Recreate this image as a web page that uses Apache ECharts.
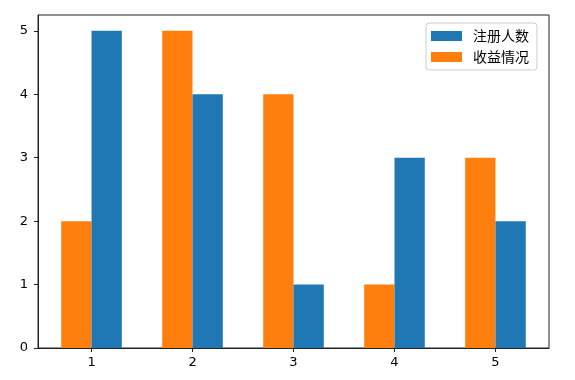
<!DOCTYPE html>
<html><head><meta charset="utf-8">
<script src="https://cdn.jsdelivr.net/npm/echarts@6/dist/echarts.min.js"></script>
<style>html,body{margin:0;padding:0;background:#fff}#c{width:575px;height:380px}</style>
</head><body><div id="c"></div>
<script>
const categories = [1, 2, 3, 4, 5];
const incomeValues = [2, 5, 4, 1, 3];   // 收益情况 (orange)
const usersValues = [5, 4, 1, 3, 2];    // 注册人数 (blue)
const yTicks = [0, 1, 2, 3, 4, 5];
const seriesNames = ['注册人数', '收益情况'];

const chart = echarts.init(document.getElementById('c'));
const font = 'DejaVu Sans';
chart.setOption({
  animation: false,
  grid: {left: 38, right: 26, top: 15, bottom: 32, show: true, borderColor: '#222', borderWidth: 1, backgroundColor: 'transparent'},
  legend: {
    orient: 'vertical', left: 426, top: 23,
    data: seriesNames,
    itemWidth: 31, itemHeight: 10, itemGap: 7,
    padding: [6, 8, 6, 5],
    backgroundColor: '#fff', borderColor: '#ccc', borderWidth: 1, borderRadius: 3,
    textStyle: {fontFamily: 'Noto Sans CJK SC', fontSize: 14, color: '#000', padding: [0, 0, 0, 6]},
    icon: 'rect'
  },
  xAxis: {
    type: 'value', min: 0.47, max: 5.53,
    splitLine: {show: false},
    axisLine: {show: true, onZero: false, lineStyle: {color: '#222'}},
    axisTick: {show: true, length: 4, customValues: categories, lineStyle: {color: '#222'}},
    axisLabel: {customValues: categories, margin: 8, fontFamily: font, fontSize: 13, color: '#000'}
  },
  yAxis: {
    type: 'value', min: 0, max: 5.25,
    splitLine: {show: false},
    axisLine: {show: true, lineStyle: {color: '#222'}},
    axisTick: {show: true, length: 4, customValues: yTicks, lineStyle: {color: '#222'}},
    axisLabel: {customValues: yTicks, margin: 10, fontFamily: font, fontSize: 13, color: '#000'}
  },
  series: [
    {name: '收益情况', type: 'bar', barWidth: 30.3, barGap: '0%', itemStyle: {color: '#ff7f0e'},
     data: categories.map((c, i) => [c, incomeValues[i]])},
    {name: '注册人数', type: 'bar', barWidth: 30.3, barGap: '0%', itemStyle: {color: '#1f77b4'},
     data: categories.map((c, i) => [c, usersValues[i]])}
  ]
});
</script></body></html>
